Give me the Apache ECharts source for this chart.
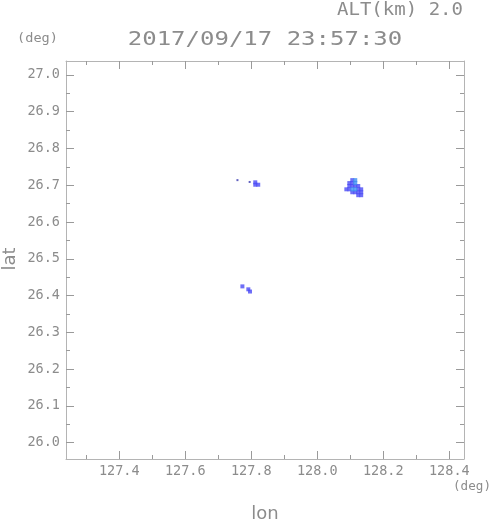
<!DOCTYPE html>
<html>
<head>
<meta charset="utf-8">
<script src="https://cdn.jsdelivr.net/npm/echarts@6/dist/echarts.min.js"></script>
<style>html,body{margin:0;padding:0;background:#fff}#c{width:491px;height:521px}</style>
</head>
<body>
<div id="c"></div>
<script>
// ---- data ----
const lonMajor = [127.4, 127.6, 127.8, 128.0, 128.2, 128.4];
const lonMinor = [127.3, 127.5, 127.7, 127.9, 128.1, 128.3];
const latMajor = [26.0, 26.1, 26.2, 26.3, 26.4, 26.5, 26.6, 26.7, 26.8, 26.9, 27.0];
const latMinor = [26.05, 26.15, 26.25, 26.35, 26.45, 26.55, 26.65, 26.75, 26.85, 26.95];
const lonRange = [127.2385, 128.4445];
const latRange = [25.9555, 27.038];
const titleText = "2017/09/17 23:57:30";
const altText = "ALT(km) 2.0";
// echo cells [lon, lat]
const echoDark = [
  [128.106, 26.714],
  [128.097, 26.706], [128.106, 26.706],
  [128.097, 26.698], [128.106, 26.698], [128.115, 26.698], [128.124, 26.698],
  [128.088, 26.689], [128.097, 26.689], [128.124, 26.689], [128.133, 26.689],
  [128.106, 26.681], [128.115, 26.681], [128.124, 26.681], [128.133, 26.681],
  [128.124, 26.673], [128.133, 26.673],
  [127.812, 26.708], [127.812, 26.7015], [127.821, 26.7015],
  [127.773, 26.425],
  [127.791, 26.417], [127.796, 26.411]
];
const echoLight = [
  [128.115, 26.714], [128.115, 26.706],
  [128.106, 26.689], [128.115, 26.689]
];
const echoSpeck = [
  [127.758, 26.714], [127.795, 26.709]
];

// ---- chart ----
const frame = '#b4b4b4', tickC = '#9a9a9a', txt = '#8c8c8c';
const mono = '"DejaVu Sans Mono", monospace';
function axisX(pos, ticks, len, labels, line, grid) {
  return {
    type: 'value', gridIndex: grid, position: pos, min: lonRange[0], max: lonRange[1],
    axisLine: { show: line, lineStyle: { color: frame, width: 1 } },
    axisTick: { show: true, inside: true, length: len, customValues: ticks, lineStyle: { color: tickC } },
    axisLabel: labels ? { show: true, customValues: ticks, formatter: v => v.toFixed(1), margin: 5,
      color: txt, fontFamily: mono, fontSize: 13.5 } : { show: false },
    splitLine: { show: false }
  };
}
function axisY(pos, ticks, len, labels, line, grid) {
  return {
    type: 'value', gridIndex: grid, position: pos, min: latRange[0], max: latRange[1],
    axisLine: { show: line, lineStyle: { color: frame, width: 1 } },
    axisTick: { show: true, inside: true, length: len, customValues: ticks, lineStyle: { color: tickC } },
    axisLabel: labels ? { show: true, customValues: ticks, formatter: v => v.toFixed(1), margin: 6,
      color: txt, fontFamily: mono, fontSize: 13.5 } : { show: false },
    splitLine: { show: false }
  };
}
const gridBox = { left: 66, right: 27, top: 61, bottom: 62, outerBoundsMode: 'none', containLabel: false };
const chart = echarts.init(document.getElementById('c'), null, { renderer: 'canvas' });
chart.setOption({
  animation: false,
  backgroundColor: '#fff',
  grid: [Object.assign({}, gridBox), Object.assign({}, gridBox)],
  xAxis: [
    axisX('bottom', lonMajor, 8, true, true, 0),
    axisX('top', lonMajor, 8, false, true, 0),
    axisX('bottom', lonMinor, 4, false, false, 1),
    axisX('top', lonMinor, 4, false, false, 1)
  ],
  yAxis: [
    axisY('left', latMajor, 8, true, true, 0),
    axisY('right', latMajor, 8, false, true, 0),
    axisY('left', latMinor, 4, false, false, 1),
    axisY('right', latMinor, 4, false, false, 1)
  ],
  series: [
    { type: 'scatter', xAxisIndex: 0, yAxisIndex: 0, data: echoDark, symbol: 'rect', symbolSize: 4,
      itemStyle: { color: '#4b4bf5' }, silent: true },
    { type: 'scatter', xAxisIndex: 0, yAxisIndex: 0, data: echoLight, symbol: 'rect', symbolSize: 4,
      itemStyle: { color: '#3d8ef0' }, silent: true },
    { type: 'scatter', xAxisIndex: 0, yAxisIndex: 0, data: echoSpeck, symbol: 'rect', symbolSize: 2,
      itemStyle: { color: '#3a3ab0' }, silent: true }
  ],
  graphic: [
    { type: 'text', x: 265, y: 40, scaleX: 1.2, silent: true,
      style: { text: titleText, fontFamily: mono, fontSize: 20, fill: txt, align: 'center', verticalAlign: 'middle' } },
    { type: 'text', x: 400, y: 11, scaleX: 1.12, silent: true,
      style: { text: altText, fontFamily: mono, fontSize: 17, fill: txt, align: 'center', verticalAlign: 'middle' } },
    { type: 'text', x: 37.5, y: 39, scaleX: 1.13, silent: true,
      style: { text: '(deg)', fontFamily: mono, fontSize: 12, fill: txt, align: 'center', verticalAlign: 'middle' } },
    { type: 'text', x: 472, y: 487, scaleX: 1.05, silent: true,
      style: { text: '(deg)', fontFamily: mono, fontSize: 12, fill: txt, align: 'center', verticalAlign: 'middle' } },
    { type: 'text', x: 265, y: 514, silent: true,
      style: { text: 'lon', fontFamily: '"DejaVu Sans"', fontSize: 18, fill: txt, align: 'center', verticalAlign: 'middle' } },
    { type: 'text', x: 10, y: 259, rotation: Math.PI / 2, silent: true,
      style: { text: 'lat', fontFamily: '"DejaVu Sans"', fontSize: 18, fill: txt, align: 'center', verticalAlign: 'middle' } }
  ]
});
</script>
</body>
</html>
